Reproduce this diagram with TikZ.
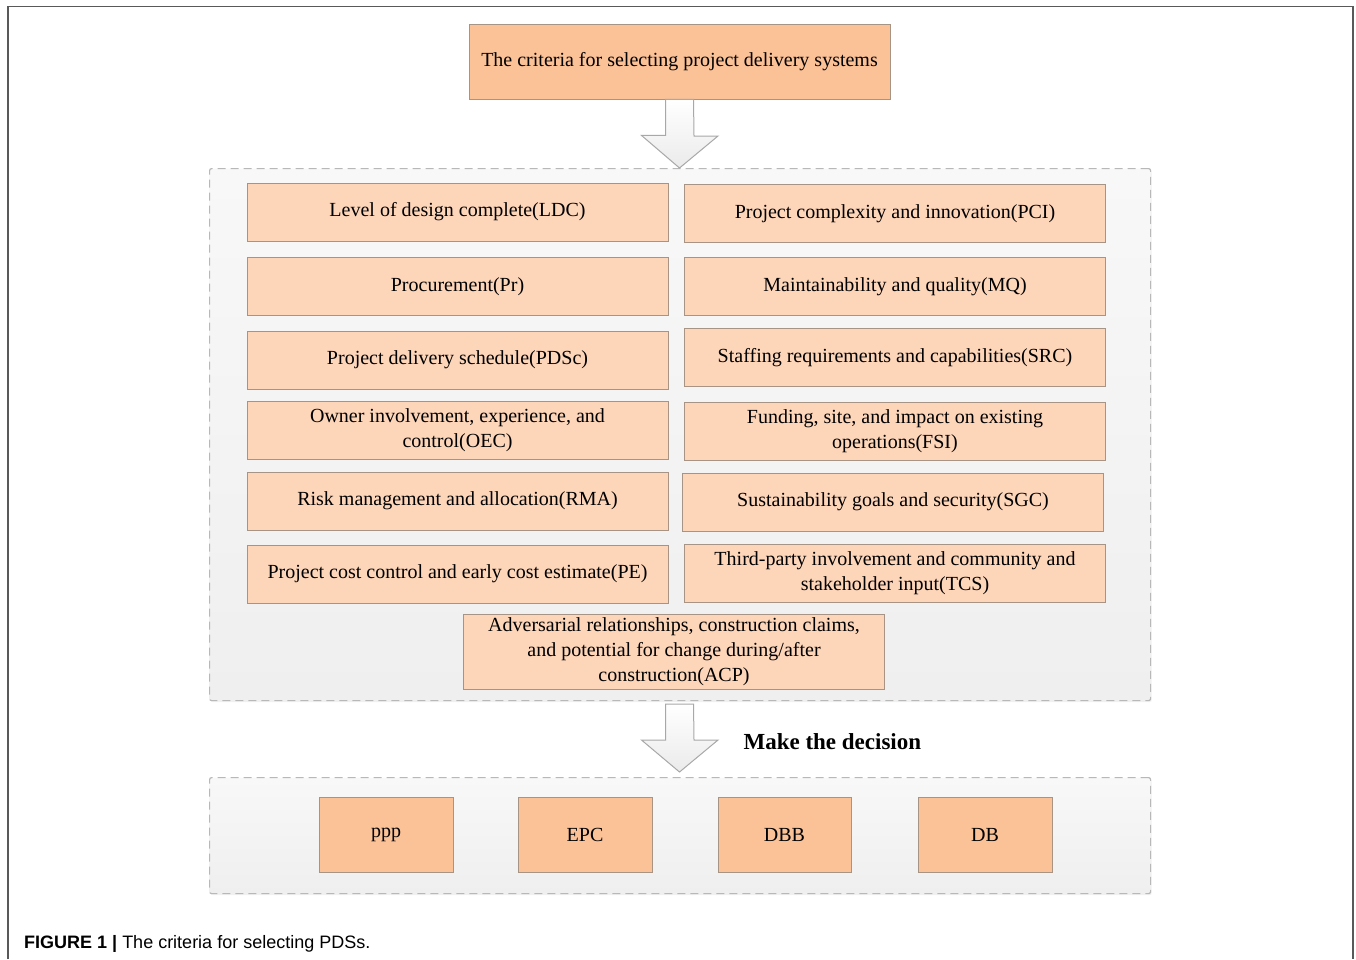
\documentclass[tikz,border=0pt]{standalone}
\usepackage{fontspec}
\setmainfont{Liberation Serif}
\newfontfamily\capfont{Liberation Sans}
\usetikzlibrary{shadows}
\definecolor{topfill}{HTML}{FBC197}
\definecolor{critfill}{HTML}{FDD5B9}
\definecolor{boxline}{HTML}{A89484}
\definecolor{dashline}{HTML}{B8B8B8}
\definecolor{conttop}{HTML}{F8F8F8}
\definecolor{contbot}{HTML}{EFEFEF}
\definecolor{arrline}{HTML}{A8A8A8}
\tikzset{
  x=1pt, y=-1pt,
  boxbase/.style={draw=boxline, line width=0.9pt, align=center, inner sep=2pt,
    font=\fontsize{20}{25}\selectfont, text=black},
  cbox/.style={boxbase, fill=critfill, minimum width=421pt, minimum height=58pt},
  tbox/.style={boxbase, fill=topfill},
  dbox/.style={boxbase, fill=topfill, minimum width=134pt, minimum height=75pt},
  cont/.style={draw=dashline, dashed, dash pattern=on 8pt off 5pt, line width=1.2pt,
    top color=conttop, bottom color=contbot, rounded corners=2pt,
    drop shadow={shadow xshift=1pt, shadow yshift=-1.5pt, opacity=0.12}},
  blockarrow/.style={draw=arrline, line width=1pt, top color=white, bottom color=white!92!black},
  frameline/.style={draw=black!65, line width=1.3pt}
}
\begin{document}
\begin{tikzpicture}
\useasboundingbox (0,0) rectangle (1356,959);
% outer frame
\draw[frameline] (8,959) -- (8,6.5) -- (1353,6.5) -- (1353,959);

% containers
\node[cont, minimum width=941pt, minimum height=532pt, anchor=north west, inner sep=0pt] (c1) at (209,168) {};
\node[cont, minimum width=941pt, minimum height=116pt, anchor=north west, inner sep=0pt] (c2) at (209,777) {};

% top box
\node[tbox, minimum width=421pt, minimum height=75pt] (top) at (679.5,61.5) {The criteria for selecting project delivery systems};

% arrow 1
\coordinate (a1) at (top.south);
\draw[blockarrow] ([xshift=-14pt]a1) -- ++(0,36) -- ++(-24,0) -- (679.5,168) -- (718,136) -- ++(-24,0) -- ([xshift=14pt]a1) -- cycle;

% criteria left column
\node[cbox] (ldc) at (457.5,212) {Level of design complete(LDC)};
\node[cbox] (pr) at (457.5,286.5) {Procurement(Pr)};
\node[cbox] (pdsc) at (457.5,360) {Project delivery schedule(PDSc)};
\node[cbox] (oec) at (457.5,430) {Owner involvement, experience, and\\control(OEC)};
\node[cbox] (rma) at (457.5,501) {Risk management and allocation(RMA)};
\node[cbox] (pe) at (457.5,574) {Project cost control and early cost estimate(PE)};
% criteria right column
\node[cbox] (pci) at (895,213.5) {Project complexity and innovation(PCI)};
\node[cbox] (mq) at (895,286.5) {Maintainability and quality(MQ)};
\node[cbox] (src) at (895,357.5) {Staffing requirements and capabilities(SRC)};
\node[cbox] (fsi) at (895,431.5) {Funding, site, and impact on existing\\operations(FSI)};
\node[cbox] (sgc) at (893,502) {Sustainability goals and security(SGC)};
\node[cbox] (tcs) at (895,573.5) {Third-party involvement and community and\\stakeholder input(TCS)};
% ACP
\node[cbox, minimum height=75pt] (acp) at (674,651.5) {Adversarial relationships, construction claims,\\and potential for change during/after\\construction(ACP)};

% arrow 2
\coordinate (a2) at (679.5,704);
\draw[blockarrow] ([xshift=-14pt]a2) -- ++(0,36) -- ++(-24,0) -- (679.5,772) -- (718,740) -- ++(-24,0) -- ([xshift=14pt]a2) -- cycle;
\node[anchor=west, font=\fontsize{23}{27}\selectfont\bfseries] (mk) at (740,742) {Make the decision};

% decisions
\node[dbox] (ppp) at (386,834.5) {\raisebox{-3pt}{ppp}};
\node[dbox] (epc) at (585,834.5) {EPC};
\node[dbox, minimum width=133pt] (dbb) at (784.5,834.5) {DBB};
\node[dbox] (db) at (985,834.5) {DB};

% caption
\node[anchor=base west, inner sep=0pt, font=\capfont\fontsize{18}{22}\selectfont] (cap) at (24,948) {\textbf{FIGURE 1 |} The criteria for selecting PDSs.};
\end{tikzpicture}
\end{document}
